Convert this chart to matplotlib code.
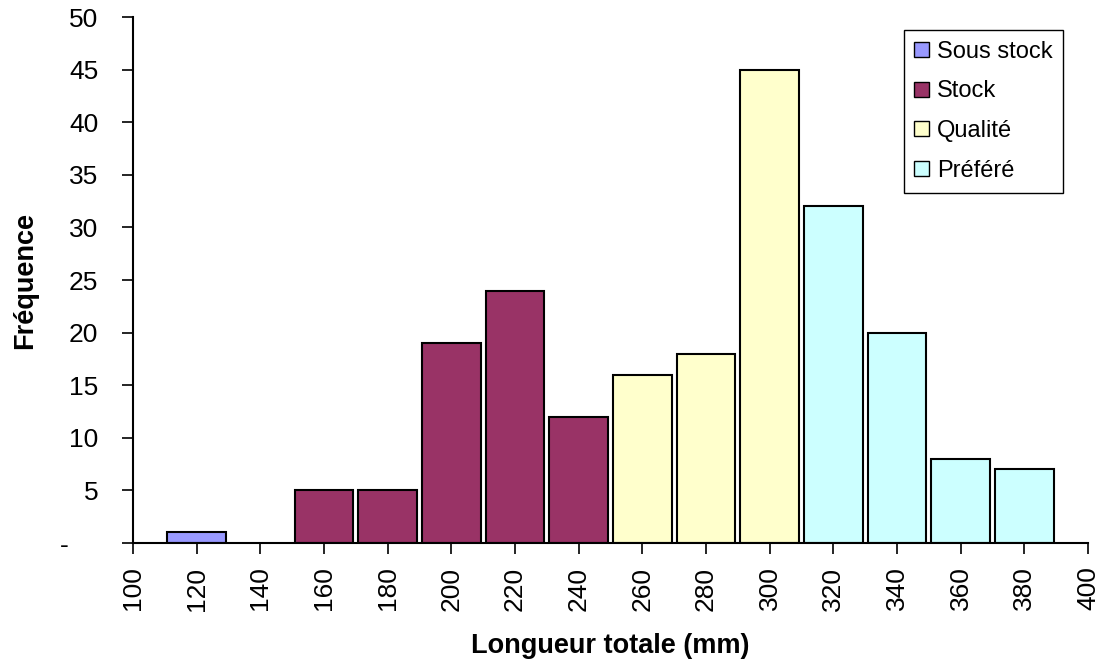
import matplotlib.pyplot as plt
from matplotlib.patches import Patch

plt.rcParams['font.family'] = ['Liberation Sans', 'DejaVu Sans']

# Data
lengths = [120, 140, 160, 180, 200, 220, 240, 260, 280, 300, 320, 340, 360, 380]
counts = [1, 0, 5, 5, 19, 24, 12, 16, 18, 45, 32, 20, 8, 7]
classes = ['Sous stock', 'Sous stock', 'Stock', 'Stock', 'Stock', 'Stock', 'Stock',
           'Qualité', 'Qualité', 'Qualité', 'Préféré', 'Préféré', 'Préféré', 'Préféré']
class_names = ['Sous stock', 'Stock', 'Qualité', 'Préféré']
class_colors = {'Sous stock': '#9999FF', 'Stock': '#993366',
                'Qualité': '#FFFFCC', 'Préféré': '#CCFFFF'}
y_ticks = [0, 5, 10, 15, 20, 25, 30, 35, 40, 45, 50]
y_labels = ['-    '] + [str(v) for v in y_ticks[1:]]

fig = plt.figure(figsize=(11.05, 6.67), dpi=100)
ax = fig.add_axes([0.1204, 0.1859, 0.8642, 0.7886])

for x, c, k in zip(lengths, counts, classes):
    if c > 0:
        ax.bar(x, c, width=18.5, color=class_colors[k], edgecolor='black', linewidth=1.5)

ax.set_xlim(100, 400)
ax.set_ylim(0, 50)
ax.set_xticks(range(100, 401, 20))
ax.set_xticklabels([str(v) for v in range(100, 401, 20)], rotation=90, fontsize=19)
ax.set_yticks(y_ticks)
ax.set_yticklabels(y_labels, fontsize=19)
ax.tick_params(direction='out', length=8, width=1.2)
ax.tick_params(axis='y', pad=17)
ax.tick_params(axis='x', pad=9)

ax.spines['top'].set_visible(False)
ax.spines['right'].set_visible(False)
ax.spines['left'].set_linewidth(1.5)
ax.spines['bottom'].set_linewidth(1.5)

ax.set_xlabel('Longueur totale (mm)', fontsize=19.5, fontweight='bold', labelpad=16)
ax.set_ylabel('Fréquence', fontsize=19.5, fontweight='bold', labelpad=16)

handles = [Patch(facecolor=class_colors[n], edgecolor='black', label=n) for n in class_names]
leg = ax.legend(handles=handles, loc='upper right', bbox_to_anchor=(0.974, 0.975),
                fontsize=17, fancybox=False, edgecolor='black', framealpha=1,
                handlelength=0.6, handleheight=0.6, handletextpad=0.35,
                labelspacing=0.75, borderpad=0.45, borderaxespad=0)
leg.get_frame().set_linewidth(1.0)

plt.savefig('out.png', dpi=100)
